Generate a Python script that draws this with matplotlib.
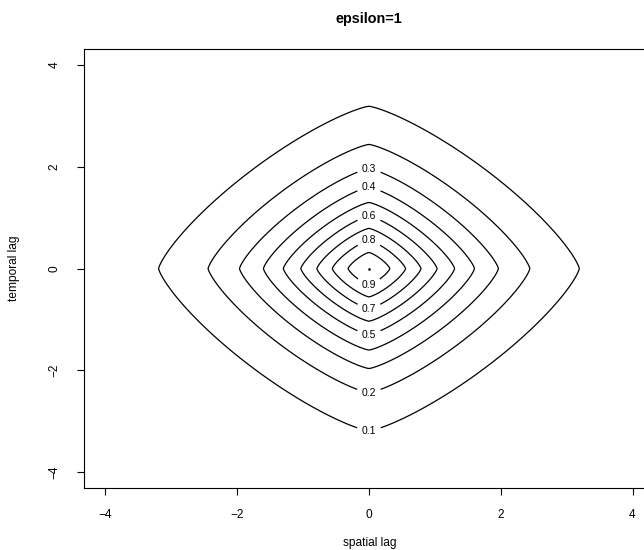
"""Contour plot of a space-time correlation surface (epsilon=1)."""
import numpy as np
import matplotlib
matplotlib.use("Agg")
import matplotlib.pyplot as plt

plt.rcParams["font.family"] = ["Liberation Sans", "DejaVu Sans"]

# contour levels and which side of the temporal axis carries each label
LEVELS = [0.1, 0.2, 0.3, 0.4, 0.5, 0.6, 0.7, 0.8, 0.9]
LABELS_ABOVE = [0.3, 0.4, 0.6, 0.8]
LABELS_BELOW = [0.1, 0.2, 0.5, 0.7, 0.9]
TICKS = [-4, -2, 0, 2, 4]

# lag grid and model parameters
LAGS = np.linspace(-4, 4, 401)
NORM_POWER = 1.28   # shape of the iso-lines (1 = diamond, 2 = circle)
RANGE = 1.71
SHAPE = 1.336


def correlation(h, u):
    r = (np.abs(h) ** NORM_POWER + np.abs(u) ** NORM_POWER) ** (1 / NORM_POWER)
    return np.exp(-(r / RANGE) ** SHAPE)


H, U = np.meshgrid(LAGS, LAGS)
Z = correlation(H, U)

W, HT = 644, 550
fig = plt.figure(figsize=(W / 100, HT / 100), dpi=100)
ax = fig.add_axes([84.3 / W, 1 - 488.3 / HT, 569.3 / W, 439.4 / HT])

cs = ax.contour(H, U, Z, levels=LEVELS, colors="black", linewidths=0.9)

# label positions: where each level crosses the temporal axis (h = 0)
col = Z[:, np.argmin(np.abs(LAGS))]
pos = LAGS > 0
neg = LAGS < 0
spots = []
for lev in LABELS_ABOVE:
    spots.append((0, np.interp(lev, col[pos][::-1], LAGS[pos][::-1])))
for lev in LABELS_BELOW:
    spots.append((0, np.interp(lev, col[neg], LAGS[neg])))
labels = ax.clabel(cs, manual=spots, inline=True, inline_spacing=6,
                   fontsize=7.5, fmt="%g")
for t in labels:
    t.set_rotation(0)

# peak of the surface shows as a dot
peak = np.unravel_index(Z.argmax(), Z.shape)
ax.plot(H[peak], U[peak], marker="o", ms=0.9, color="black")

ax.set_xlim(-4.32, 4.32)
ax.set_ylim(-4.32, 4.32)
ax.set_xticks(TICKS)
ax.set_yticks(TICKS)
ax.tick_params(direction="out", length=5.2, width=0.8, labelsize=8.6)
ax.tick_params(axis="x", pad=10)
ax.tick_params(axis="y", pad=12, labelrotation=90)
for lbl in ax.get_yticklabels():
    lbl.set_va("center")
for sp in ax.spines.values():
    sp.set_linewidth(0.8)

fig.text(369.3 / W, 1 - 19 / HT, "epsilon=1", ha="center", va="center",
         fontsize=10.4, fontweight="bold")
fig.text(369.3 / W, 1 - 543 / HT, "spatial lag", ha="center", va="center",
         fontsize=8.6)
fig.text(14 / W, 1 - 268.3 / HT, "temporal lag", ha="center", va="center",
         fontsize=8.6, rotation=90)

fig.savefig("out.png", dpi=100)
